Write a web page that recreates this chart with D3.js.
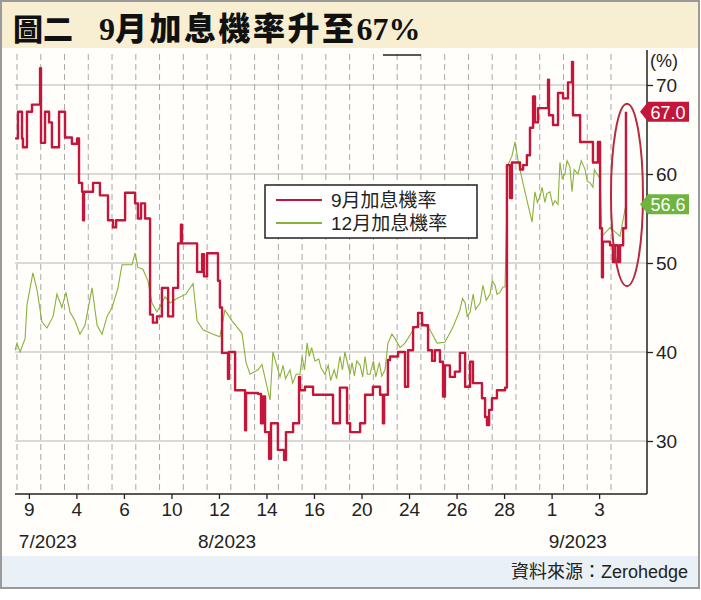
<!DOCTYPE html>
<html>
<head>
<meta charset="utf-8">
<script src="https://cdn.jsdelivr.net/npm/d3@7"></script>
<style>
  body { margin: 0; background: #fff; }
  svg { display: block; }
</style>
</head>
<body>
<script>
/*--- data ---*/
// x unit = one grid slot (dashed vertical line) on the time axis
let septT = [-0.08,0.04,0.21,0.25,0.42,0.63,0.97,1.01,1.18,1.35,1.47,1.77,2.02,2.31,2.53,2.61,2.74,2.78,2.82,3.20,3.49,3.83,4.04,4.17,4.55,4.97,5.09,5.22,5.39,
  5.60,5.72,5.89,6.10,6.36,6.57,6.78,6.90,6.94,7.58,7.79,7.87,8.00,8.46,8.54,8.63,8.88,8.92,9.18,9.60,9.64,10.14,10.27,10.35,10.44,10.61,10.69,10.98,11.24,11.32,
  11.62,11.87,11.91,12.12,12.46,13.30,13.59,13.89,14.02,14.44,14.65,14.98,15.28,15.40,15.45,15.61,15.70,16.04,16.33,16.46,16.67,16.88,17.05,17.30,17.47,17.59,
  17.80,17.93,18.01,18.22,18.43,18.64,18.86,19.07,19.19,19.57,19.70,19.78,19.87,19.99,20.20,20.54,20.62,20.75,20.83,21.17,21.30,21.46,21.59,21.72,21.80,21.93,
  22.35,22.39,22.56,22.77,22.98,23.19,23.36,23.40,23.70,24.24,24.45,24.54,24.62,24.66,24.96,25.08,25.17,25.29,25.38,25.51,25.63];
let septVal = [64,67,64,63,67,67.8,71.9,63.5,67,65.8,63,67,64.1,63.4,64,59,58,54.8,58,59,57.6,54.8,54,54.8,57.9,56.7,55,56.7,55,
  44.2,43.3,44,47.2,44,47.2,52.2,54.3,52.2,49,51,48.5,51.1,48,45,39.9,37,40,35.7,31.2,35.4,35.3,32,35,31,28,32,29,27.9,31,
  32,37.2,35.7,36.1,35.2,32,36,32,31,32,35.2,36.1,35.2,32,35.2,39.1,39.5,40,36.1,40.2,42.8,44.4,43,40.2,39,40.2,
  38.9,35,38.5,37.2,37.8,39.9,36.1,38.9,36.5,34.8,32.7,31.8,33.5,34.8,35.7,36,61,57.3,61.3,60.5,61,62.1,65.2,68.7,65.8,67.4,
  70.6,66.6,65.5,69.1,68.5,70.3,72.6,66.6,63.6,61.3,63.6,53.9,48.4,52.4,52,50.1,52,50.1,52,53.9,67];

let decT = [-0.08,0,0.13,0.34,0.42,0.67,0.84,1.05,1.26,1.52,1.68,1.89,2.06,2.23,2.44,2.65,2.86,3.16,3.37,3.58,3.79,4.00,4.25,4.42,4.84,4.97,5.09,5.30,5.51,
  5.68,5.89,6.10,6.23,6.44,6.73,7.11,7.41,7.58,7.83,8.25,8.54,8.75,9.05,9.47,9.64,9.81,10.14,10.31,10.65,10.77,
  11.07,11.2,11.3,11.49,11.6,11.75,11.91,12.0,12.1,12.21,12.3,12.4,12.54,12.7,12.8,12.96,13.1,13.2,13.35,13.45,13.59,13.7,13.8,
  14.02,14.1,14.2,14.3,14.44,14.55,14.65,14.75,14.86,15.0,15.1,15.25,15.35,15.49,
  15.61,15.78,15.91,16.12,16.33,16.75,17.05,17.38,17.68,18.01,18.35,
  18.64,18.75,18.86,18.95,19.07,19.2,19.3,19.49,19.61,19.75,19.91,20.0,20.12,20.2,20.33,20.45,20.54,
  20.66,20.83,20.96,21.09,21.25,21.38,21.51,21.68,
  21.80,21.9,22.01,22.1,22.22,22.3,22.43,22.55,22.64,22.77,
  22.85,22.95,23.06,23.15,23.27,23.36,23.45,23.61,23.75,23.91,24.0,24.12,24.24,24.3,24.41,24.54,
  24.62,24.96,25.38,25.63];
let decVal = [40.2,41,40,41.5,45.3,48.9,47,43.4,42.7,44,46.5,45,46.7,44.5,43.5,42,43,47.2,43,42,44,45,47.2,49.8,49.8,51.1,49.5,49.3,48,
  45.5,44.5,45.5,46.2,45.5,46,46.5,47.7,43.5,42.5,42,41.7,44.7,43.5,42.1,38.8,37.5,38,38.6,34.6,40,
  37.2,38.5,37,38,36.5,37.5,37.5,39.5,38,41,39.5,40.5,39,39.2,38.2,37.5,38.5,36.8,38,37,39.5,38,40,
  37.5,38.8,37.3,39,38.5,37.2,39.5,37.5,37.5,39,37.2,38.8,37.3,38,
  41,42,41.5,40.5,41,42.8,43.3,42.5,41,41.1,42.8,
  44.7,46,45.5,44,44.5,46.5,44.8,45.5,47.5,45.8,46.5,48,47.5,46.5,46.7,47.3,47.3,
  61,62,63.6,61.5,59.5,58,56.5,54.6,
  58,56.8,57.5,58.5,56.8,57.8,58,56.5,57,56.6,
  61.3,59.5,60,61.5,60.8,58,60.5,60,61.5,60.5,59.2,59,58.5,60.5,60,59.5,
  53,54,53,56.6];

let seriesNames = ["9月加息機率", "12月加息機率"];
let yTicks = [30, 40, 50, 60, 70];
let tickLabels = ["9","4","6","10","12","14","16","20","24","26","28","1","3"];
let tickPos = [0.5,2.5,4.5,6.5,8.5,10.5,12.5,14.5,16.5,18.5,20.5,22.5,24.5];
let monthLabels = ["7/2023", "8/2023", "9/2023"];
let monthPos = [1.3, 8.84, 23.6];
let lastLabels = ["67.0", "56.6"];

/*--- sizes, scales ---*/
let width = 701, height = 600;
let plot = {left: 15, right: 647, top: 50, bottom: 494};
let red = "#c4153a", green = "#8ab13c";

let X = d3.scaleLinear().domain([0, 25]).range([17, 611]);
let Y = d3.scaleLinear().domain([30, 70]).range([441, 85]);

let svg = d3.select("body").append("svg")
    .attr("width", width).attr("height", height);

// backgrounds
svg.append("rect").attr("x", 0).attr("y", 0).attr("width", width).attr("height", height).attr("fill", "#fff");
svg.append("rect").attr("x", 1).attr("y", 1).attr("width", 698).attr("height", 587)
    .attr("fill", "#fffefb").attr("stroke", "#9a9a9a").attr("stroke-width", 2);
svg.append("rect").attr("x", 2).attr("y", 2).attr("width", 696).attr("height", 46).attr("fill", "#f8eed2");
svg.append("rect").attr("x", 2).attr("y", 556).attr("width", 696).attr("height", 31).attr("fill", "#e9f1f6");

// title
let title = svg.append("g").attr("font-family", "'Liberation Serif','Noto Sans CJK TC',serif")
    .attr("font-weight", 900).attr("fill", "#111");
title.append("text").attr("x", 13).attr("y", 40).attr("font-size", 30).text("圖二");
let t2 = title.append("text").attr("x", 99).attr("y", 40).attr("font-size", 32);
t2.append("tspan").text("9");
t2.append("tspan").attr("letter-spacing", 2.5).text("月加息機率升至");
t2.append("tspan").text("67%");

/*--- grid ---*/
let grid = svg.append("g");
grid.selectAll(".hg").data(yTicks).enter().append("line")
    .attr("x1", plot.left).attr("x2", plot.right)
    .attr("y1", d => Y(d)).attr("y2", d => Y(d))
    .attr("stroke", "#b5b5b5").attr("stroke-width", 1);
grid.selectAll(".vg").data(d3.range(0, 26)).enter().append("line")
    .attr("x1", d => X(d)).attr("x2", d => X(d))
    .attr("y1", plot.top + 4).attr("y2", plot.bottom)
    .attr("stroke", "#a8a8a8").attr("stroke-width", 1).attr("stroke-dasharray", "6,4");

// small black mark at the top
svg.append("line").attr("x1", 383).attr("x2", 421).attr("y1", 55).attr("y2", 55)
    .attr("stroke", "#222").attr("stroke-width", 1.5);

/*--- lines ---*/
let decData = decT.map((t, i) => [t, decVal[i]]);
let septData = septT.map((t, i) => [t, septVal[i]]);

svg.append("path").datum(decData)
    .attr("fill", "none").attr("stroke", green).attr("stroke-width", 1.1)
    .attr("d", d3.line().x(d => X(d[0])).y(d => Y(d[1])));

svg.append("path").datum(septData)
    .attr("fill", "none").attr("stroke", red).attr("stroke-width", 2.4)
    .attr("stroke-linejoin", "round")
    .attr("d", d3.line().x(d => X(d[0])).y(d => Y(d[1])).curve(d3.curveStepAfter));

// ellipse round the last move
let lastT = septT[septT.length - 1];
svg.append("ellipse")
    .attr("cx", X(lastT) + 1).attr("cy", (Y(47.4) + Y(67.9)) / 2)
    .attr("rx", 16).attr("ry", (Y(47.4) - Y(67.9)) / 2)
    .attr("fill", "none").attr("stroke", "#b82a3e").attr("stroke-width", 2);

/*--- axes ---*/
let yAxis = d3.axisRight(Y).tickValues(yTicks).tickSize(6).tickPadding(3);
let gy = svg.append("g").attr("transform", "translate(" + plot.right + ",0)").call(yAxis);
gy.select(".domain").remove();
gy.selectAll(".tick line").attr("stroke", "#222").attr("stroke-width", 1.3);
gy.selectAll(".tick text").attr("font-family", "'Liberation Sans',Arial,sans-serif")
    .attr("font-size", 19).attr("fill", "#222");
svg.append("line").attr("x1", plot.right).attr("x2", plot.right)
    .attr("y1", plot.top).attr("y2", plot.bottom).attr("stroke", "#222").attr("stroke-width", 1.5);
svg.append("text").attr("x", 650).attr("y", 67)
    .attr("font-family", "'Liberation Sans',Arial,sans-serif").attr("font-size", 18).attr("fill", "#222")
    .text("(%)");

let xAxis = d3.axisBottom(X).tickValues(tickPos).tickFormat((d, i) => tickLabels[i]).tickSize(5).tickPadding(4);
let gx = svg.append("g").attr("transform", "translate(0," + plot.bottom + ")").call(xAxis);
gx.select(".domain").remove();
gx.selectAll(".tick line").attr("stroke", "#222").attr("stroke-width", 1.3);
gx.selectAll(".tick text").attr("font-family", "'Liberation Sans',Arial,sans-serif")
    .attr("font-size", 19).attr("fill", "#222");
svg.append("line").attr("x1", plot.left).attr("x2", plot.right)
    .attr("y1", plot.bottom).attr("y2", plot.bottom).attr("stroke", "#222").attr("stroke-width", 1.5);

svg.selectAll(".month").data(monthLabels).enter().append("text")
    .attr("x", (d, i) => X(monthPos[i])).attr("y", 548)
    .attr("text-anchor", "middle")
    .attr("font-family", "'Liberation Sans',Arial,sans-serif").attr("font-size", 19).attr("fill", "#222")
    .text(d => d);

/*--- last value tags ---*/
let tagVals = [septVal[septVal.length - 1], decVal[decVal.length - 1]];
let tagColors = [red, "#6fb43f"];
let tags = svg.selectAll(".tag").data(tagVals).enter().append("g")
    .attr("transform", d => "translate(" + (plot.right + 1) + "," + Y(d) + ")");
tags.append("path")
    .attr("d", "M-8,0 L0,-10 L41,-10 L41,10 L0,10 Z")
    .attr("fill", (d, i) => tagColors[i]);
tags.append("text").attr("x", 20).attr("y", 7).attr("text-anchor", "middle")
    .attr("font-family", "'Liberation Sans',Arial,sans-serif").attr("font-size", 18).attr("fill", "#fff")
    .text((d, i) => lastLabels[i]);

/*--- legend ---*/
let legend = svg.append("g").attr("transform", "translate(265,185)");
legend.append("rect").attr("width", 212).attr("height", 53)
    .attr("fill", "#fff").attr("stroke", "#222").attr("stroke-width", 1.5);
legend.selectAll(".ll").data(seriesNames).enter().append("line")
    .attr("x1", 11).attr("x2", 57)
    .attr("y1", (d, i) => 15 + i * 23).attr("y2", (d, i) => 15 + i * 23)
    .attr("stroke", (d, i) => i == 0 ? red : green).attr("stroke-width", (d, i) => i == 0 ? 2 : 1.8);
legend.selectAll(".lt").data(seriesNames).enter().append("text")
    .attr("x", 66).attr("y", (d, i) => 22 + i * 23)
    .attr("font-family", "'Liberation Sans','Noto Sans CJK TC',sans-serif").attr("font-size", 19).attr("fill", "#222")
    .text(d => d);

// source
svg.append("text").attr("x", 688).attr("y", 578).attr("text-anchor", "end")
    .attr("font-family", "'Liberation Sans','Noto Sans CJK TC',sans-serif").attr("font-size", 18).attr("fill", "#222")
    .text("資料來源：Zerohedge");
</script>
</body>
</html>
